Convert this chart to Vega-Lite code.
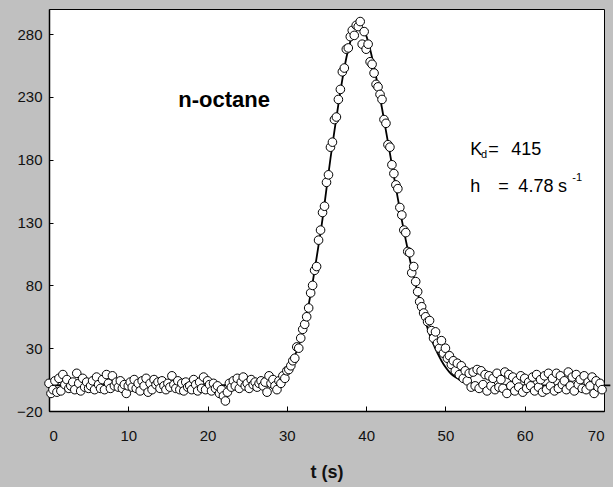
{
  "$schema": "https://vega.github.io/schema/vega-lite/v6.json",
  "autosize": "none",
  "width": 555,
  "height": 402,
  "padding": {"left": 49, "top": 9, "right": 9, "bottom": 76},
  "background": "#c0c0c0",
  "config": {
    "view": {"fill": "white", "stroke": "black", "strokeWidth": 1},
    "font": "Liberation Sans",
    "axis": {"grid": false, "domainColor": "black", "domainWidth": 1.5, "tickColor": "black", "labelColor": "#111", "labelFont": "Liberation Sans", "labelFontSize": 15, "titleFont": "Liberation Sans", "titleColor": "#111"}
  },
  "datasets": {
    "pts": [
      {"t":0,"v":2},{"t":0.25,"v":-6},{"t":0.5,"v":-3},{"t":0.75,"v":4},{"t":1,"v":-5},{"t":1.25,"v":6},{"t":1.5,"v":-4},{"t":1.75,"v":9},
      {"t":2,"v":1},{"t":2.25,"v":5},{"t":2.5,"v":-2},{"t":2.75,"v":0},{"t":3,"v":3},{"t":3.25,"v":-3},{"t":3.5,"v":10},{"t":3.75,"v":2},
      {"t":4,"v":-4},{"t":4.25,"v":6},{"t":4.5,"v":-1},{"t":4.75,"v":3},{"t":5,"v":-2},{"t":5.25,"v":0},{"t":5.5,"v":4},{"t":5.75,"v":-3},
      {"t":6,"v":7},{"t":6.25,"v":1},{"t":6.5,"v":-2},{"t":6.75,"v":5},{"t":7,"v":-3},{"t":7.25,"v":9},{"t":7.5,"v":2},{"t":7.75,"v":-2},
      {"t":8,"v":8},{"t":8.25,"v":0},{"t":8.5,"v":3},{"t":8.75,"v":-1},{"t":9,"v":4},{"t":9.25,"v":-2},{"t":9.5,"v":1},{"t":9.75,"v":-6},
      {"t":10,"v":0},{"t":10.25,"v":3},{"t":10.5,"v":-1},{"t":10.75,"v":5},{"t":11,"v":-2},{"t":11.25,"v":2},{"t":11.5,"v":-4},{"t":11.75,"v":4},
      {"t":12,"v":0},{"t":12.25,"v":6},{"t":12.5,"v":-5},{"t":12.75,"v":2},{"t":13,"v":-3},{"t":13.25,"v":5},{"t":13.5,"v":1},{"t":13.75,"v":3},
      {"t":14,"v":-2},{"t":14.25,"v":4},{"t":14.5,"v":0},{"t":14.75,"v":-3},{"t":15,"v":2},{"t":15.25,"v":-1},{"t":15.5,"v":8},{"t":15.75,"v":1},
      {"t":16,"v":-2},{"t":16.25,"v":4},{"t":16.5,"v":-3},{"t":16.75,"v":2},{"t":17,"v":-4},{"t":17.25,"v":3},{"t":17.5,"v":-1},{"t":17.75,"v":0},
      {"t":18,"v":-3},{"t":18.25,"v":5},{"t":18.5,"v":1},{"t":18.75,"v":-4},{"t":19,"v":3},{"t":19.25,"v":-2},{"t":19.5,"v":7},{"t":19.75,"v":-3},
      {"t":20,"v":4},{"t":20.25,"v":1},{"t":20.5,"v":-4},{"t":20.75,"v":2},{"t":21,"v":-2},{"t":21.25,"v":0},{"t":21.5,"v":-6},{"t":21.75,"v":-3},
      {"t":22,"v":-8},{"t":22.25,"v":-12},{"t":22.5,"v":-5},{"t":22.75,"v":2},{"t":23,"v":-1},{"t":23.25,"v":4},{"t":23.5,"v":0},{"t":23.75,"v":6},
      {"t":24,"v":-2},{"t":24.25,"v":3},{"t":24.5,"v":7},{"t":24.75,"v":0},{"t":25,"v":2},{"t":25.25,"v":-2},{"t":25.5,"v":5},{"t":25.75,"v":1},
      {"t":26,"v":3},{"t":26.25,"v":-1},{"t":26.5,"v":2},{"t":26.75,"v":4},{"t":27,"v":0},{"t":27.25,"v":3},{"t":27.5,"v":-5},{"t":27.75,"v":8},
      {"t":28,"v":2},{"t":28.25,"v":5},{"t":28.5,"v":0},{"t":28.75,"v":-3},{"t":29,"v":4},{"t":29.25,"v":2},{"t":29.5,"v":8},{"t":29.75,"v":6},
      {"t":30,"v":12},{"t":30.25,"v":13},{"t":30.5,"v":16},{"t":30.75,"v":20},{"t":31,"v":22},{"t":31.25,"v":31},{"t":31.5,"v":30},{"t":31.75,"v":38},
      {"t":32,"v":45},{"t":32.25,"v":49},{"t":32.5,"v":55},{"t":32.75,"v":62},{"t":33,"v":74},{"t":33.25,"v":80},{"t":33.5,"v":92},{"t":33.75,"v":95},
      {"t":34,"v":116},{"t":34.25,"v":124},{"t":34.5,"v":138},{"t":34.75,"v":143},{"t":35,"v":162},{"t":35.25,"v":168},{"t":35.5,"v":190},{"t":35.75,"v":194},
      {"t":36,"v":212},{"t":36.25,"v":214},{"t":36.5,"v":228},{"t":36.75,"v":236},{"t":37,"v":250},{"t":37.25,"v":253},{"t":37.5,"v":268},{"t":37.75,"v":269},
      {"t":38,"v":278},{"t":38.25,"v":283},{"t":38.5,"v":279},{"t":38.75,"v":287},{"t":39,"v":286},{"t":39.25,"v":290},{"t":39.5,"v":272},{"t":39.75,"v":282},
      {"t":40,"v":268},{"t":40.25,"v":272},{"t":40.5,"v":258},{"t":40.75,"v":256},{"t":41,"v":249},{"t":41.25,"v":240},{"t":41.5,"v":238},{"t":41.75,"v":232},
      {"t":42,"v":228},{"t":42.25,"v":212},{"t":42.5,"v":209},{"t":42.75,"v":192},{"t":43,"v":190},{"t":43.25,"v":176},{"t":43.5,"v":169},{"t":43.75,"v":160},
      {"t":44,"v":157},{"t":44.25,"v":142},{"t":44.5,"v":136},{"t":44.75,"v":124},{"t":45,"v":122},{"t":45.25,"v":107},{"t":45.5,"v":106},{"t":45.75,"v":90},
      {"t":46,"v":95},{"t":46.25,"v":83},{"t":46.5,"v":75},{"t":46.75,"v":67},{"t":47,"v":63},{"t":47.25,"v":58},{"t":47.5,"v":55},{"t":47.75,"v":51},
      {"t":48,"v":52},{"t":48.25,"v":44},{"t":48.5,"v":38},{"t":48.75,"v":43},{"t":49,"v":34},{"t":49.25,"v":30},{"t":49.5,"v":36},{"t":49.75,"v":26},
      {"t":50,"v":30},{"t":50.25,"v":22},{"t":50.5,"v":24},{"t":50.75,"v":17},{"t":51,"v":20},{"t":51.25,"v":12},{"t":51.5,"v":18},{"t":51.75,"v":9},
      {"t":52,"v":16},{"t":52.25,"v":6},{"t":52.5,"v":12},{"t":52.75,"v":4},{"t":53,"v":10},{"t":53.25,"v":-1},{"t":53.5,"v":11},{"t":53.75,"v":0},
      {"t":54,"v":13},{"t":54.25,"v":-2},{"t":54.5,"v":12},{"t":54.75,"v":1},{"t":55,"v":9},{"t":55.25,"v":-4},{"t":55.5,"v":8},{"t":55.75,"v":0},
      {"t":56,"v":6},{"t":56.25,"v":-3},{"t":56.5,"v":10},{"t":56.75,"v":-1},{"t":57,"v":5},{"t":57.25,"v":-2},{"t":57.5,"v":11},{"t":57.75,"v":-6},
      {"t":58,"v":9},{"t":58.25,"v":0},{"t":58.5,"v":7},{"t":58.75,"v":-4},{"t":59,"v":4},{"t":59.25,"v":-1},{"t":59.5,"v":8},{"t":59.75,"v":-5},
      {"t":60,"v":6},{"t":60.25,"v":-2},{"t":60.5,"v":3},{"t":60.75,"v":0},{"t":61,"v":7},{"t":61.25,"v":-4},{"t":61.5,"v":9},{"t":61.75,"v":-1},
      {"t":62,"v":5},{"t":62.25,"v":-5},{"t":62.5,"v":8},{"t":62.75,"v":-3},{"t":63,"v":10},{"t":63.25,"v":0},{"t":63.5,"v":6},{"t":63.75,"v":-4},
      {"t":64,"v":10},{"t":64.25,"v":-2},{"t":64.5,"v":8},{"t":64.75,"v":1},{"t":65,"v":4},{"t":65.25,"v":-3},{"t":65.5,"v":11},{"t":65.75,"v":0},
      {"t":66,"v":7},{"t":66.25,"v":-4},{"t":66.5,"v":9},{"t":66.75,"v":1},{"t":67,"v":5},{"t":67.25,"v":-2},{"t":67.5,"v":8},{"t":67.75,"v":-3},
      {"t":68,"v":3},{"t":68.25,"v":0},{"t":68.5,"v":7},{"t":68.75,"v":-6},{"t":69,"v":4},{"t":69.25,"v":-1},{"t":69.5,"v":2},{"t":69.75,"v":-3}
    ],
    "fit": [
      {"t":0,"v":0.5},{"t":27,"v":0.5},{"t":28,"v":1},{"t":28.5,"v":2},{"t":29,"v":3},{"t":29.5,"v":6},{"t":30,"v":10},{"t":30.5,"v":16},{"t":31,"v":24},
      {"t":31.5,"v":32},{"t":32,"v":43},{"t":32.5,"v":57},{"t":33,"v":73},{"t":33.5,"v":92},{"t":34,"v":112},{"t":34.5,"v":133},{"t":35,"v":157},
      {"t":35.5,"v":181},{"t":36,"v":203},{"t":36.5,"v":224},{"t":37,"v":244},{"t":37.5,"v":261},{"t":38,"v":274},{"t":38.5,"v":282},{"t":39,"v":286},
      {"t":39.5,"v":285},{"t":40,"v":279},{"t":40.5,"v":268},{"t":41,"v":254},{"t":41.5,"v":238},{"t":42,"v":221},{"t":42.5,"v":203},{"t":43,"v":185},
      {"t":43.5,"v":167},{"t":44,"v":149},{"t":44.5,"v":132},{"t":45,"v":116},{"t":45.5,"v":101},{"t":46,"v":87},{"t":46.5,"v":74},{"t":47,"v":62},
      {"t":47.5,"v":51},{"t":48,"v":41},{"t":48.5,"v":33},{"t":49,"v":26},{"t":49.5,"v":20},{"t":50,"v":15},{"t":50.5,"v":11},{"t":51,"v":8},
      {"t":51.5,"v":6},{"t":52,"v":4},{"t":53,"v":2.2},{"t":54,"v":1.2},{"t":56,"v":0.6},{"t":60,"v":0.4},{"t":70.8,"v":0.4}
    ],
    "title": [{"t":16.3,"v":222,"txt":"n-octane"}],
    "big": [
      {"t":53.14,"v":183.9,"txt":"K"},
      {"t":55.4,"v":183.9,"txt":"="},
      {"t":58.3,"v":183.9,"txt":"415"},
      {"t":53.14,"v":154.6,"txt":"h"},
      {"t":56.66,"v":154.6,"txt":"="},
      {"t":59.2,"v":154.6,"txt":"4.78"},
      {"t":64.2,"v":154.6,"txt":"s"}
    ],
    "small": [
      {"t":54.5,"v":181.5,"txt":"d"},
      {"t":66.0,"v":163,"txt":"-1"}
    ]
  },
  "layer": [
    {
      "data": {"name": "fit"},
      "mark": {"type": "line", "color": "black", "strokeWidth": 1.8, "interpolate": "monotone"},
      "encoding": {
        "x": {"field": "t", "type": "quantitative", "scale": {"domain": [0, 70], "nice": false},
          "axis": {"values": [0,10,20,30,40,50,60,70], "tickSize": -5, "labelPadding": 22, "title": "t (s)", "titleFontSize": 18, "titleFontWeight": "bold", "titlePadding": 20}},
        "y": {"field": "v", "type": "quantitative", "scale": {"domain": [-20, 300], "nice": false, "zero": false},
          "axis": {"values": [-20,30,80,130,180,230,280], "tickSize": -4, "labelPadding": 11, "title": null}}
      }
    },
    {
      "data": {"name": "pts"},
      "mark": {"type": "point", "shape": "circle", "filled": true, "fill": "white", "stroke": "black", "strokeWidth": 1, "size": 74, "opacity": 1},
      "encoding": {
        "x": {"field": "t", "type": "quantitative"},
        "y": {"field": "v", "type": "quantitative"}
      }
    },
    {
      "data": {"name": "title"},
      "mark": {"type": "text", "align": "left", "baseline": "alphabetic", "font": "Liberation Sans", "fontSize": 22, "fontWeight": "bold", "color": "black"},
      "encoding": {
        "x": {"field": "t", "type": "quantitative"},
        "y": {"field": "v", "type": "quantitative"},
        "text": {"field": "txt"}
      }
    },
    {
      "data": {"name": "big"},
      "mark": {"type": "text", "align": "left", "baseline": "alphabetic", "font": "Liberation Sans", "fontSize": 18, "color": "black"},
      "encoding": {
        "x": {"field": "t", "type": "quantitative"},
        "y": {"field": "v", "type": "quantitative"},
        "text": {"field": "txt"}
      }
    },
    {
      "data": {"name": "small"},
      "mark": {"type": "text", "align": "left", "baseline": "alphabetic", "font": "Liberation Sans", "fontSize": 11, "color": "black"},
      "encoding": {
        "x": {"field": "t", "type": "quantitative"},
        "y": {"field": "v", "type": "quantitative"},
        "text": {"field": "txt"}
      }
    }
  ]
}
